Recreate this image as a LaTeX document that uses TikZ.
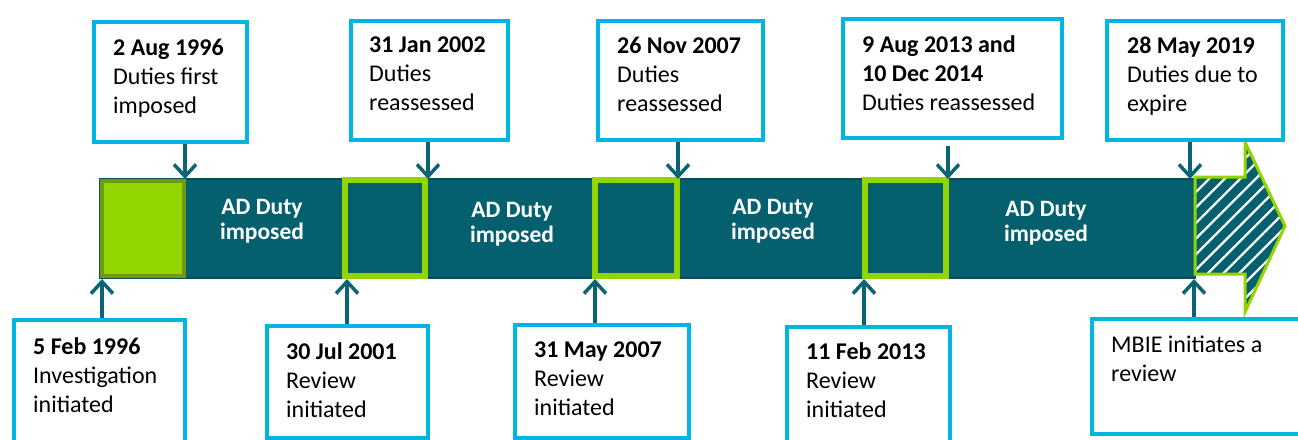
\documentclass[tikz,border=0pt]{standalone}
\usepackage{fontspec}
\setmainfont{Carlito}
\usetikzlibrary{arrows.meta,patterns.meta}

\definecolor{adteal}{HTML}{04606E}
\definecolor{adtealdark}{HTML}{0B4D59}
\definecolor{adgreen}{HTML}{93D500}
\definecolor{adolive}{HTML}{6F9A12}
\definecolor{adblue}{HTML}{00B5E2}
\definecolor{adarrow}{HTML}{0A6473}

\tikzset{
  datebox/.style={draw=adblue, line width=3.5pt, fill=white, anchor=north west, inner sep=0pt},
  datetext/.style={anchor=north west, align=left, inner sep=0pt, font=\fontsize{24}{29}\selectfont},
  dutytext/.style={text=white, align=center, inner sep=0pt, font=\bfseries\fontsize{23.5}{25}\selectfont},
  link/.style={draw=adarrow, line width=3.5pt, -{Straight Barb[length=12pt,width=22pt]}},
  revbox/.style={draw=adgreen, line width=6pt, fill=adteal},
}

\begin{document}
\begin{tikzpicture}[x=1pt,y=-1pt]
\path[use as bounding box, clip] (0,0) rectangle (1298,439);

% the duty bar
\draw[fill=adteal, draw=adtealdark, line width=2pt] (100,179) rectangle (1195,278);
\draw[fill=adgreen, draw=adolive, line width=4pt] (102,181) rectangle (184,276);
\draw[revbox] (345,180) rectangle (425,276);
\draw[revbox] (595,180) rectangle (677,276);
\draw[revbox] (865,180) rectangle (946,276);

% hatched arrow head
\draw[draw=adgreen, line width=3pt, preaction={fill=adteal},
      pattern={Lines[angle=45,distance=11pt,line width=2.3pt]}, pattern color=white]
  (1195,177) -- (1245,177) -- (1245,142) -- (1285,226) -- (1245,312)
  -- (1245,274) -- (1195,274) -- cycle;

\node[dutytext] (d1) at (262,221) {AD Duty\\imposed};
\node[dutytext] (d2) at (512,224) {AD Duty\\imposed};
\node[dutytext] (d3) at (773,221) {AD Duty\\imposed};
\node[dutytext] (d4) at (1046,223) {AD Duty\\imposed};

% points on the bar
\coordinate (up1) at (185,179);
\coordinate (up2) at (428,179);
\coordinate (up3) at (678,179);
\coordinate (up4) at (948,179);
\coordinate (up5) at (1190,179);
\coordinate (dn1) at (102,279);
\coordinate (dn2) at (347,279);
\coordinate (dn3) at (595,279);
\coordinate (dn4) at (864,279);
\coordinate (dn5) at (1194,279);

% boxes above
\node[datebox, minimum width=153, minimum height=120] (t1) at (92,20) {};
\node[datebox, minimum width=157, minimum height=119] (t2) at (349,19) {};
\node[datebox, minimum width=165, minimum height=119] (t3) at (596,19) {};
\node[datebox, minimum width=219, minimum height=119] (t4) at (841,17) {};
\node[datebox, minimum width=176, minimum height=119] (t5) at (1105,19) {};
\node[datetext] (t1txt) at (113,39) {\textbf{2 Aug 1996}\\Duties first\\imposed};
\node[datetext] (t2txt) at (369,37) {\textbf{31 Jan 2002}\\Duties\\reassessed};
\node[datetext] (t3txt) at (617,37) {\textbf{26 Nov 2007}\\Duties\\reassessed};
\node[datetext] (t4txt) at (862,35) {\textbf{9 Aug 2013 and}\\\textbf{10 Dec 2014}\\Duties reassessed};
\node[datetext] (t5txt) at (1127,37) {\textbf{28 May 2019}\\Duties due to\\expire};

% boxes below
\node[datebox, minimum width=171, minimum height=140] (b1) at (12,318) {};
\node[datebox, minimum width=161, minimum height=112] (b2) at (265,324) {};
\node[datebox, minimum width=174, minimum height=113] (b3) at (513,323) {};
\node[datebox, minimum width=163, minimum height=130] (b4) at (785,325) {};
\node[datebox, minimum width=230, minimum height=115] (b5) at (1090,317) {};
\node[datetext] (b1txt) at (33,337) {\textbf{5 Feb 1996}\\Investigation\\initiated};
\node[datetext] (b2txt) at (286,342) {\textbf{30 Jul 2001}\\Review\\initiated};
\node[datetext] (b3txt) at (534,342) {\textbf{31 May 2007}\\Review\\initiated};
\node[datetext] (b4txt) at (806,342) {\textbf{11 Feb 2013}\\Review\\initiated};
\node[datetext] (b5txt) at (1111,336) {MBIE initiates a\\review};

% arrows
\draw[link] (t1.south -| up1) -- (up1);
\draw[link] (t2.south -| up2) -- (up2);
\draw[link] (t3.south -| up3) -- (up3);
\draw[link, shorten <=6pt] (t4.south -| up4) -- (up4);
\draw[link] (t5.south -| up5) -- (up5);
\draw[link] (b1.north -| dn1) -- (dn1);
\draw[link] (b2.north -| dn2) -- (dn2);
\draw[link] (b3.north -| dn3) -- (dn3);
\draw[link] (b4.north -| dn4) -- (dn4);
\draw[link] (b5.north -| dn5) -- (dn5);
\end{tikzpicture}
\end{document}
